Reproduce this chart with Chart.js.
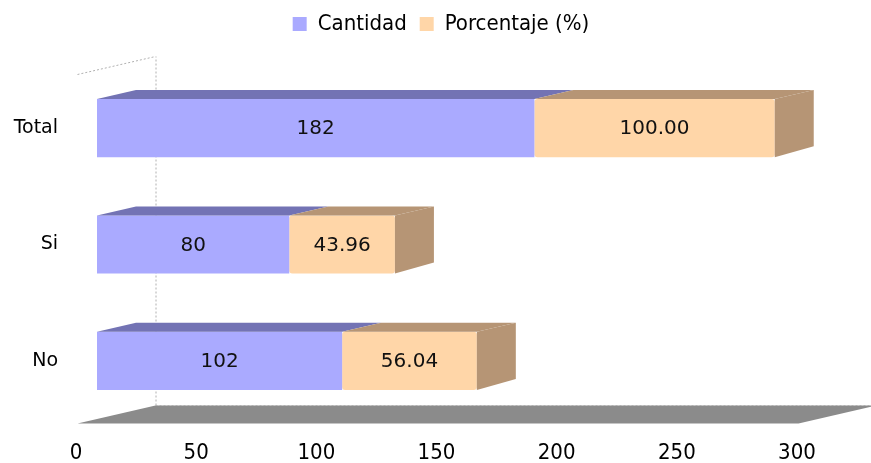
<!DOCTYPE html>
<html>
<head>
<meta charset="utf-8">
<script src="https://cdn.jsdelivr.net/npm/chart.js@4.4.0/dist/chart.umd.min.js"></script>
<style>
    html, body { margin: 0; padding: 0; background: #fff; }
    #wrap { width: 871px; height: 463px; }
</style>
</head>
<body>
<div id="wrap"><canvas id="chart"></canvas></div>
<script>
// datos
const categorias = ['Total', 'Si', 'No'];
const cantidad = [182, 80, 102];
const porcentaje = [100.00, 43.96, 56.04];
const ticksX = [0, 50, 100, 150, 200, 250, 300];

const colores = {
    cantidad: '#aaaaff', cantidadTop: '#7373b4',
    porcentaje: '#ffd6a8', porcentajeTop: '#b69575',
    piso: '#8b8b8b'
};

// profundidad 3D (fondo del grafico) y de las barras
const D = { x: 78, y: -18 };
const B = { x: D.x / 2, y: D.y / 2 };

const plugin3d = {
    id: 'plugin3d',
    beforeInit(chart) {
        // espacio extra bajo la leyenda
        const fit = chart.legend.fit;
        chart.legend.fit = function () {
            fit.bind(chart.legend)();
            this.height += 25;
        };
    },
    afterLayout(chart) {
        // centrar la leyenda como en el original
        chart.legend.left += 27;
        chart.legend.right += 27;
    },
    beforeDatasetsDraw(chart) {
        const ctx = chart.ctx;
        const area = chart.chartArea;
        const xs = chart.scales.x;
        const x0 = xs.getPixelForValue(ticksX[0]) - D.x / 4;
        const x1 = xs.getPixelForValue(ticksX[ticksX.length - 1]) - D.x / 4;
        const yF = area.bottom - D.y / 4;
        const yT = area.top - D.y / 4;

        ctx.save();
        // piso
        ctx.fillStyle = colores.piso;
        ctx.beginPath();
        ctx.moveTo(x0, yF);
        ctx.lineTo(x0 + D.x, yF + D.y);
        ctx.lineTo(x1 + D.x, yF + D.y);
        ctx.lineTo(x1, yF);
        ctx.closePath();
        ctx.fill();

        // lineas punteadas de las paredes
        ctx.strokeStyle = '#b0b0b0';
        ctx.lineWidth = 1;
        ctx.setLineDash([2, 2]);
        ctx.beginPath();
        ctx.moveTo(x0 + D.x, yF + D.y);
        ctx.lineTo(x1 + D.x, yF + D.y);
        ctx.moveTo(x0 + D.x + 0.5, yF + D.y);
        ctx.lineTo(x0 + D.x + 0.5, yT + D.y);
        ctx.moveTo(x0, yT);
        ctx.lineTo(x0 + D.x, yT + D.y);
        ctx.stroke();
        ctx.restore();
    },
    afterDatasetsDraw(chart) {
        const ctx = chart.ctx;
        const n = chart.data.datasets.length;
        ctx.save();
        chart.data.datasets.forEach((ds, i) => {
            const meta = chart.getDatasetMeta(i);
            meta.data.forEach((bar, j) => {
                const p = bar.getProps(['x', 'y', 'base', 'height'], true);
                const top = p.y - p.height / 2;
                const bottom = p.y + p.height / 2;
                ctx.fillStyle = ds.topColor;
                // cara superior
                ctx.beginPath();
                ctx.moveTo(p.base, top);
                ctx.lineTo(p.base + B.x, top + B.y);
                ctx.lineTo(p.x + B.x, top + B.y);
                ctx.lineTo(p.x, top);
                ctx.closePath();
                ctx.fill();
                // cara lateral (solo la ultima serie)
                if (i === n - 1) {
                    ctx.beginPath();
                    ctx.moveTo(p.x, top);
                    ctx.lineTo(p.x + B.x, top + B.y);
                    ctx.lineTo(p.x + B.x, bottom + B.y - 2);
                    ctx.lineTo(p.x, bottom);
                    ctx.closePath();
                    ctx.fill();
                }
                // etiqueta de valor
                ctx.fillStyle = '#111';
                ctx.font = '20px "DejaVu Sans"';
                ctx.textAlign = 'center';
                ctx.textBaseline = 'middle';
                const v = ds.data[j];
                const txt = i === 1 ? v.toFixed(2) : String(v);
                ctx.fillText(txt, (p.base + p.x) / 2, p.y + 1);
            });
        });
        ctx.restore();
    }
};

const ctx = document.getElementById('chart').getContext('2d');
const grafico = new Chart(ctx, {
    type: 'bar',
    data: {
        labels: categorias,
        datasets: [{
            label: 'Cantidad',
            data: cantidad,
            backgroundColor: colores.cantidad,
            topColor: colores.cantidadTop,
            borderWidth: 0,
            borderRadius: 3,
            borderSkipped: false
        }, {
            label: 'Porcentaje (%)',
            data: porcentaje,
            backgroundColor: colores.porcentaje,
            topColor: colores.porcentajeTop,
            borderWidth: 0,
            borderRadius: 3,
            borderSkipped: false
        }]
    },
    plugins: [plugin3d],
    options: {
        indexAxis: 'y',
        responsive: true,
        maintainAspectRatio: false,
        animation: false,
        layout: {
            padding: { left: 10, right: 53, top: 0, bottom: 0 }
        },
        plugins: {
            legend: {
                position: 'top',
                labels: {
                    boxWidth: 14,
                    boxHeight: 14,
                    padding: 13,
                    color: '#000',
                    font: { family: '"DejaVu Sans Condensed", "DejaVu Sans"', size: 22 }
                }
            },
            tooltip: { enabled: false }
        },
        scales: {
            x: {
                stacked: true,
                min: 0,
                max: 300,
                afterBuildTicks: (s) => { s.ticks = ticksX.map(v => ({ value: v })); },
                afterFit: (s) => { s.height = 44; },
                grid: { display: false, drawTicks: false },
                border: { display: false },
                ticks: {
                    autoSkip: false,
                    maxRotation: 0,
                    padding: 21,
                    labelOffset: -21,
                    color: '#000',
                    font: { family: '"DejaVu Sans Condensed", "DejaVu Sans"', size: 22 }
                }
            },
            y: {
                stacked: true,
                afterFit: (s) => {
                    s.width = 87;
                    s.paddingTop = 0;
                    s.paddingBottom = 0;
                },
                grid: { display: false, drawTicks: false },
                border: { display: false },
                ticks: {
                    padding: 39,
                    color: '#000',
                    font: { family: '"DejaVu Sans"', size: 19 }
                }
            }
        },
        datasets: {
            bar: { categoryPercentage: 1, barPercentage: 0.5 }
        }
    }
});
</script>
</body>
</html>
